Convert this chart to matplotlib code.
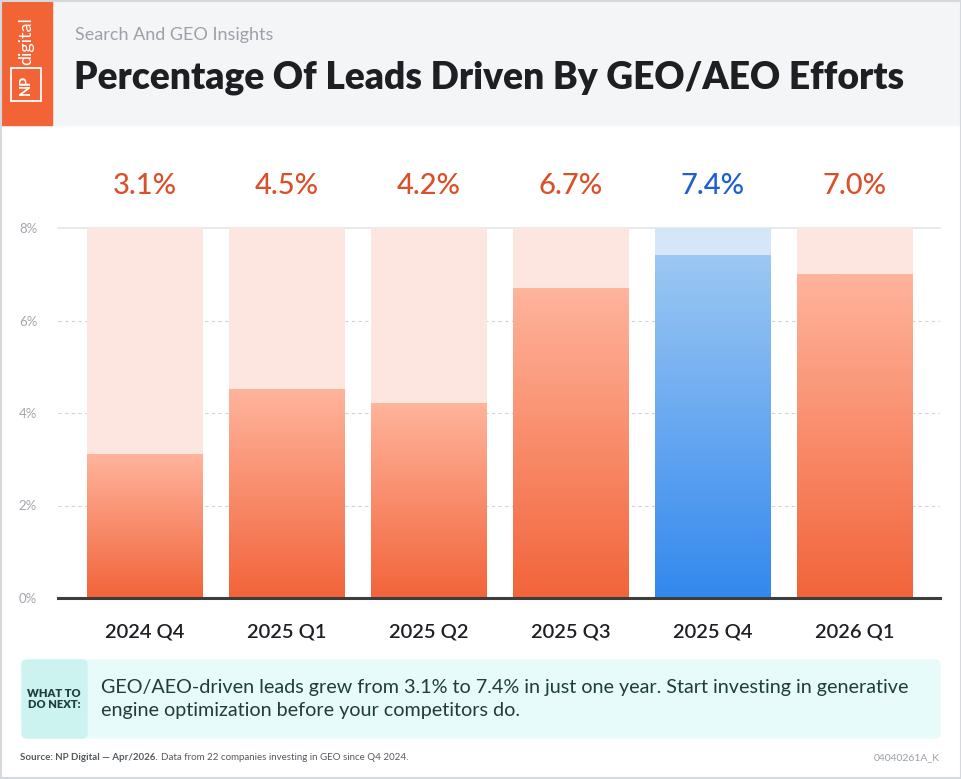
import numpy as np
import matplotlib
matplotlib.use('Agg')
from matplotlib import pyplot as plt
from matplotlib.patches import Rectangle, FancyBboxPatch
from matplotlib.colors import LinearSegmentedColormap

plt.rcParams['font.family'] = ['Lato', 'DejaVu Sans']

quarters = ['2024 Q4', '2025 Q1', '2025 Q2', '2025 Q3', '2025 Q4', '2026 Q1']
leads = [3.1, 4.5, 4.2, 6.7, 7.4, 7.0]
highlight = '2025 Q4'
yticks = [0, 2, 4, 6, 8]

W, H = 962, 779
fig = plt.figure(figsize=(W / 100, H / 100), dpi=100)

def fx(px):
    return px / W

def fy(py):
    return 1 - py / H

# header
fig.patches.append(Rectangle((0, fy(125)), 1, 125 / H, transform=fig.transFigure,
                             color='#f4f5f7', zorder=0))
fig.patches.append(Rectangle((0, fy(125)), fx(52), 125 / H, transform=fig.transFigure,
                             color='#f26436', zorder=1))
fig.patches.append(Rectangle((fx(11), fy(101)), fx(30), 33 / H, transform=fig.transFigure,
                             fill=False, ec='white', lw=1.3, zorder=2))
fig.text(fx(26), fy(84.5), 'NP', color='white', rotation=90, ha='center', va='center',
         fontsize=10.5, fontweight='bold')
fig.text(fx(26), fy(41), 'digital', color='white', rotation=90, ha='center', va='center',
         fontsize=13)
fig.text(fx(75), fy(35), 'Search And GEO Insights', color='#9ba1a8', fontsize=13,
         va='center', ha='left')
fig.text(fx(74), fy(78), 'Percentage Of Leads Driven By GEO/AEO Efforts', color='#1d1f22',
         fontsize=26.7, fontweight='heavy', va='center', ha='left')

# outer border
fig.patches.append(Rectangle((0.001, 0.001), 0.998, 0.998, transform=fig.transFigure,
                             fill=False, ec='#d5d8dc', lw=1.5, zorder=5))

# chart
ax = fig.add_axes([fx(58), fy(598), fx(940 - 58), (598 - 228) / H])
x = np.arange(len(quarters))
width = 116 / 142

orange_cm = LinearSegmentedColormap.from_list('o', ['#f2643a', '#ffb49c'])
blue_cm = LinearSegmentedColormap.from_list('b', ['#3388ee', '#9cc8f3'])
grad = np.linspace(0, 1, 256).reshape(-1, 1)

for i, (q, v) in enumerate(zip(quarters, leads)):
    hl = q == highlight
    ax.bar(x[i], 8, width=width, color='#d5e6f8' if hl else '#fde6df', zorder=1)
    ax.imshow(grad, cmap=blue_cm if hl else orange_cm, origin='lower', aspect='auto',
              extent=(x[i] - width / 2, x[i] + width / 2, 0, v), zorder=2)
    ax.text(x[i], 8.91, f'{v:.1f}%', ha='center', va='center', fontsize=21,
            fontweight='medium', color='#1f5fcf' if hl else '#d9502a', clip_on=False)

ax.set_xlim(-87 / 142, len(quarters) - 1 + 85 / 142)
ax.set_ylim(0, 8)

for t in yticks[1:-1]:
    ax.axhline(t, color='#cfd2d6', lw=0.8, ls=(0, (3, 3)), zorder=0)
ax.axhline(8, color='#e3e5e8', lw=1.2, zorder=0, clip_on=False)
ax.axhline(0, color='#3d3d3d', lw=2.2, zorder=3, clip_on=False)

ax.set_xticks(x)
ax.set_xticklabels(quarters, fontsize=14.5, fontweight='semibold', color='#1d1f22')
ax.set_yticks(yticks)
ax.set_yticklabels([f'{t}%' for t in yticks], fontsize=9.5, color='#a3a7ac')
ax.tick_params(axis='x', length=0, pad=18)
ax.tick_params(axis='y', length=0, pad=15)
for s in ax.spines.values():
    s.set_visible(False)

# callout box
fig.patches.append(FancyBboxPatch((fx(22), fy(738)), fx(918), 78 / H,
                                  boxstyle='round,pad=0,rounding_size=0.006',
                                  transform=fig.transFigure, color='#e7fbfa', zorder=1))
fig.patches.append(FancyBboxPatch((fx(22), fy(738)), fx(65), 78 / H,
                                  boxstyle='round,pad=0,rounding_size=0.006',
                                  transform=fig.transFigure, color='#cdf3f1', zorder=2))
fig.text(fx(54), fy(699), 'WHAT TO\nDO NEXT:', ha='center', va='center', fontsize=8,
         fontweight='heavy', color='#1f3d3a', linespacing=1.1)
fig.text(fx(101), fy(699),
         'GEO/AEO-driven leads grew from 3.1% to 7.4% in just one year. Start investing in generative\n'
         'engine optimization before your competitors do.',
         ha='left', va='center', fontsize=14.2, color='#1f3d3a', linespacing=1.4)

# footer
t1 = fig.text(fx(20), fy(758), 'Source: NP Digital \u2014 Apr/2026.', ha='left', va='center',
              fontsize=7, fontweight='bold', color='#555a60')
fig.canvas.draw()
bb = t1.get_window_extent()
fig.text(bb.x1 / W + fx(3), fy(758), 'Data from 22 companies investing in GEO since Q4 2024.',
         ha='left', va='center', fontsize=7, color='#555a60')
fig.text(fx(940), fy(758), '04040261A_K', ha='right', va='center', fontsize=7.5,
         color='#9ba1a8')

plt.savefig('out.png', dpi=100)
